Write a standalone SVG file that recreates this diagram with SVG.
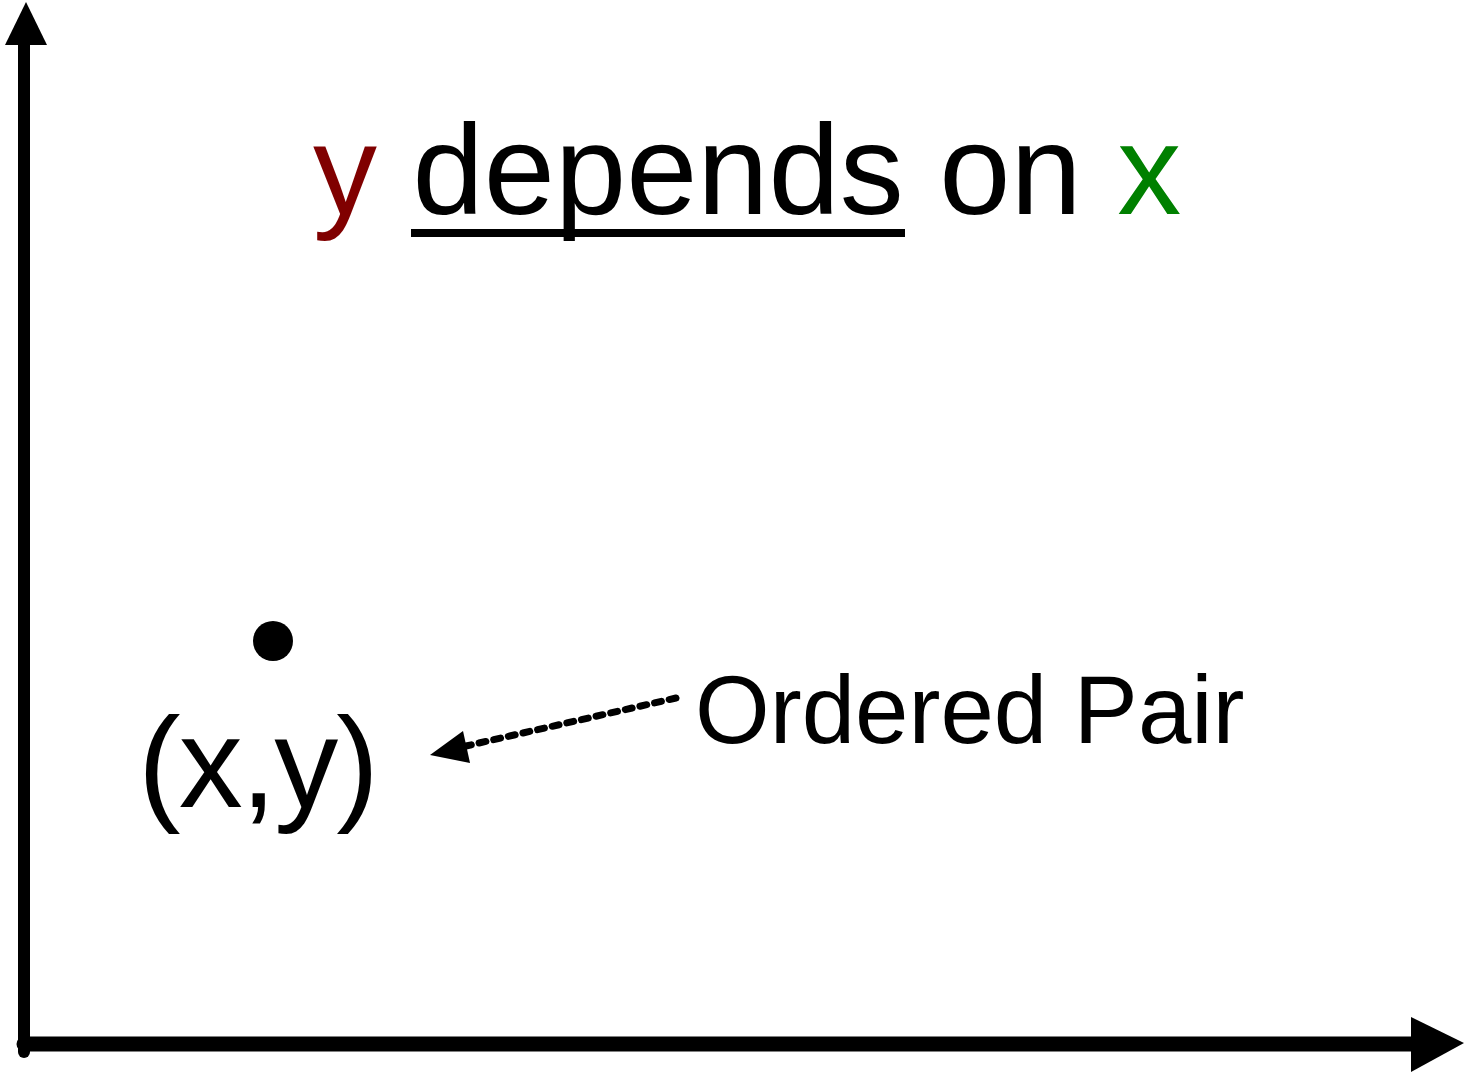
<svg xmlns="http://www.w3.org/2000/svg" width="1468" height="1077" viewBox="0 0 1468 1077">
  <style>
    .t { font-family: "Liberation Sans", Arial, sans-serif; fill: #000; }
    .axis { stroke: #000; fill: none; stroke-linecap: round; }
  </style>
  <rect width="1468" height="1077" fill="#fff"/>
  <g id="axes">
    <line class="axis" x1="24" y1="40" x2="24" y2="1052" stroke-width="12"/>
    <line class="axis" x1="24" y1="1044" x2="1415" y2="1044" stroke-width="15"/>
    <polygon points="26,2 5,45 47,45" fill="#000"/>
    <polygon points="1464,1043 1411,1017 1411,1072" fill="#000"/>
  </g>
  <g id="title">
    <text class="t" x="313" y="214" font-size="128"><tspan fill="#800000">y</tspan> depends on <tspan fill="#008000">x</tspan></text>
    <rect x="411" y="229" width="494" height="8" fill="#000"/>
  </g>
  <g id="point">
    <circle cx="273" cy="641" r="20" fill="#000"/>
    <text class="t" x="138" y="807" font-size="128" letter-spacing="-2">(x,y)</text>
  </g>
  <g id="ordered-pair">
    <text class="t" x="695" y="743" font-size="96">Ordered Pair</text>
  </g>
  <g id="connectors">
    <line x1="676" y1="698" x2="466" y2="746" stroke="#000" stroke-width="7" stroke-linecap="round" stroke-dasharray="7 8"/>
    <polygon points="430,755 463,731 470,763" fill="#000"/>
  </g>
</svg>
